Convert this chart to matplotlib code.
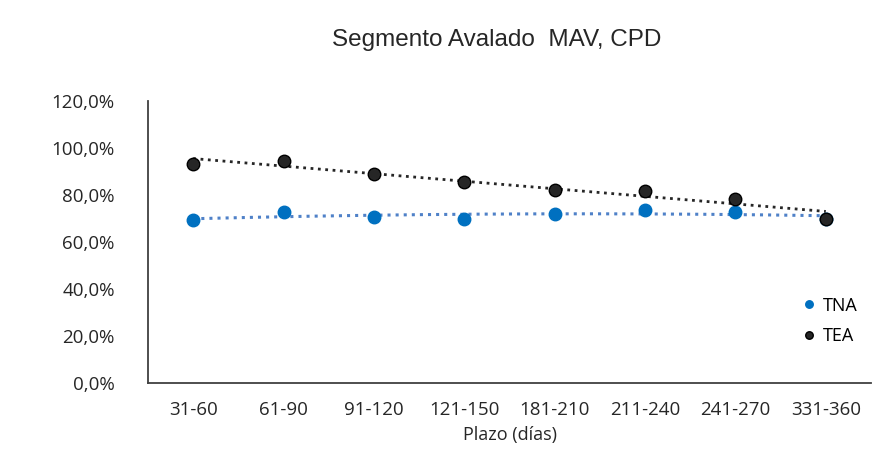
import numpy as np
import matplotlib.pyplot as plt

# datos
plazos = ["31-60", "61-90", "91-120", "121-150", "181-210", "211-240", "241-270", "331-360"]
tna = [69.4, 72.8, 70.5, 69.8, 71.9, 73.5, 72.8, 70.0]
tea = [93.2, 94.5, 89.0, 85.5, 82.1, 81.7, 78.3, 69.8]
y_ticks = [0, 20, 40, 60, 80, 100, 120]

AZUL = '#0070C0'
AZUL_TEND = '#4F81C8'
NEGRO = '#262626'

plt.rcParams['font.family'] = ['Open Sans', 'DejaVu Sans']

fig = plt.figure(figsize=(8.78, 4.49), dpi=100)
ax = fig.add_axes([0.1686, 0.147, 0.8234, 0.628])

x = np.arange(len(plazos))

# lineas de tendencia (como en Excel)
xs = np.linspace(0, len(plazos) - 1, 200)
ax.plot(xs, np.polyval(np.polyfit(x, tna, 2), xs), ':', color=AZUL_TEND, lw=2.2, zorder=2)
ax.plot(xs, np.polyval(np.polyfit(x, tea, 1), xs), ':', color=NEGRO, lw=2.0, zorder=2)

ax.plot(x, tna, 'o', color=AZUL, ms=9, mec=AZUL, label='TNA', zorder=3)
ax.plot(x, tea, 'o', color=NEGRO, ms=9, mec='black', label='TEA', zorder=3)

ax.set_xlim(-0.5, len(plazos) - 0.5)
ax.set_ylim(0, 120)
ax.set_yticks(y_ticks)
ax.set_yticklabels([f"{v:.1f}%".replace('.', ',') for v in y_ticks])
ax.set_xticks(x)
ax.set_xticklabels(plazos)
ax.tick_params(axis='both', length=0, labelsize=13.5, colors='#262626')
ax.tick_params(axis='y', pad=24)
ax.tick_params(axis='x', pad=13)

for s in ['top', 'right']:
    ax.spines[s].set_visible(False)
for s in ['left', 'bottom']:
    ax.spines[s].set_color('#404040')
    ax.spines[s].set_linewidth(1.3)

ax.set_xlabel("Plazo (días)", fontsize=13, color='#262626', labelpad=5)
fig.text(0.566, 0.912, "Segmento Avalado  MAV, CPD", ha='center', va='center',
         fontsize=17.5, family='Liberation Sans', color='#262626')

ax.legend(loc='center left', bbox_to_anchor=(0.893, 0.285), bbox_transform=fig.transFigure,
          frameon=False, fontsize=13, handletextpad=0.25, markerscale=0.6,
          labelspacing=0.7, handlelength=1.0)

plt.savefig("out.png", dpi=100)
